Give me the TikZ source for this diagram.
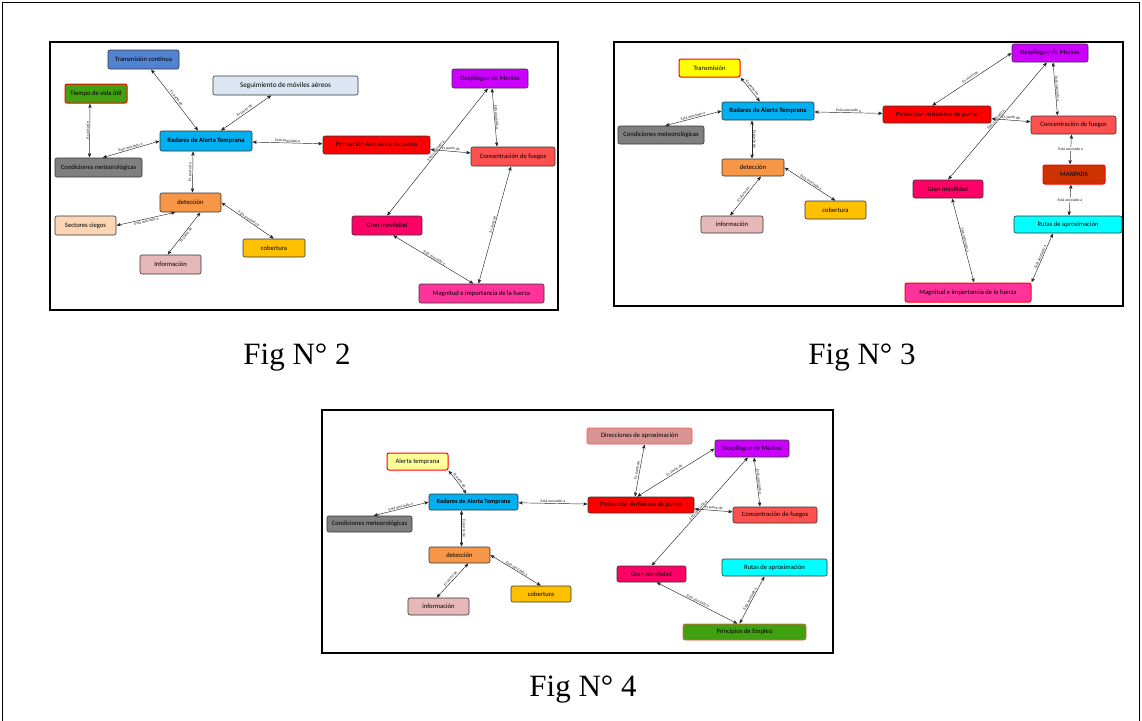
\documentclass[tikz,border=0pt]{standalone}
\usepackage{fontspec}
\setmainfont{Liberation Serif}
\newfontfamily\cmapfont{Carlito}
\usetikzlibrary{arrows}

\definecolor{cmblue}{RGB}{82,130,210}
\definecolor{cmgreen}{RGB}{64,160,16}
\definecolor{cmsilver}{RGB}{220,230,242}
\definecolor{cmsky}{RGB}{0,176,240}
\definecolor{cmgray}{RGB}{127,127,127}
\definecolor{cmviolet}{RGB}{204,0,255}
\definecolor{cmsalmon}{RGB}{255,80,80}
\definecolor{cmorange}{RGB}{247,150,70}
\definecolor{cmpeach}{RGB}{252,213,180}
\definecolor{cmrose}{RGB}{230,184,183}
\definecolor{cmgold}{RGB}{255,192,0}
\definecolor{cmcrimson}{RGB}{255,0,102}
\definecolor{cmpink}{RGB}{255,51,153}
\definecolor{cmlemon}{RGB}{255,255,153}
\definecolor{cmbrick}{RGB}{204,51,0}
\definecolor{cmdusty}{RGB}{217,149,148}
\definecolor{cmaqua}{RGB}{0,255,255}
\definecolor{cmyellow}{RGB}{255,255,0}

\begin{document}
\begin{tikzpicture}[x=1pt,y=-1pt,<->,>=stealth',shorten >=0.5pt,shorten <=0.5pt,
  concept/.style={rectangle,rounded corners=2pt,draw=black!80,line width=0.6pt,inner sep=0pt,
    minimum height=18,font=\cmapfont\fontsize{6.6}{7}\selectfont},
  redline/.style={draw=red,line width=1pt},
  lab/.style={sloped,above,inner sep=0.6pt,text=black!85,font=\cmapfont\fontsize{4}{4.5}\selectfont},
  flatlab/.style={fill=white,inner sep=0.6pt,text=black!85,font=\cmapfont\fontsize{4}{4.5}\selectfont},
  panel/.style={-,draw,line width=1.8pt},
  every edge/.style={draw,line width=0.45pt,black!85}]

  \useasboundingbox (0,0) rectangle (1142,720);
  \draw[-,line width=0.8pt] (2.5,730) -- (2.5,2.5) -- (1139.5,2.5) -- (1139.5,730);

  % Fig N 2
  \draw[panel] (50,42) rectangle (558,310);
  \node[concept,fill=cmblue,minimum width=71,minimum height=19] (f2trans) at (143.5,59.5) {Transmisión continua};
  \node[concept,redline,fill=cmgreen,minimum width=62,minimum height=19] (f2tiempo) at (96,93.5) {Tiempo de vida útil};
  \node[concept,fill=cmsilver,minimum width=145,minimum height=19,font=\cmapfont\fontsize{7.2}{8}\selectfont] (f2segui) at (285.5,85.5) {Seguimiento de móviles aéreos};
  \node[concept,fill=cmsky,minimum width=92,minimum height=20,font=\cmapfont\bfseries\fontsize{6.6}{7}\selectfont] (f2rad) at (206,141) {Radares de Alerta Temprana};
  \node[concept,fill=cmgray,minimum width=87,minimum height=19] (f2cond) at (98.5,167.5) {Condiciones meteorológicas};
  \node[concept,fill=red,minimum width=107] (f2prot) at (376.5,145) {Protección Antiaérea de punto};
  \node[concept,fill=cmviolet,minimum width=76,minimum height=19] (f2desp) at (490,78.5) {Despliegue de Medios};
  \node[concept,fill=cmsalmon,minimum width=84,minimum height=19] (f2conc) at (513,156.5) {Concentración de fuegos};
  \node[concept,fill=cmorange,minimum width=61,minimum height=19] (f2det) at (190.5,202.5) {detección};
  \node[concept,fill=cmpeach,minimum width=61,minimum height=19] (f2sect) at (85.5,225.5) {Sectores ciegos};
  \node[concept,fill=cmrose,minimum width=61,minimum height=19] (f2info) at (170.5,264.5) {Información};
  \node[concept,fill=cmgold,minimum width=62] (f2cob) at (274,248) {cobertura};
  \node[concept,fill=cmcrimson,minimum width=70,minimum height=19] (f2gran) at (387,225.5) {Gran movilidad};
  \node[concept,fill=cmpink,minimum width=125,minimum height=19] (f2mag) at (481.5,293.5) {Magnitud e importancia de la fuerza};

  \path
    (f2rad) edge node[lab] {Es parte de} (f2trans)
    (f2rad) edge node[lab] {Es parte de} (f2segui)
    ([xshift=4]f2cond.north) edge node[lab] {Está asociado a} (f2rad.west)
    ([xshift=-9]f2cond.north) edge node[lab] {A causa de} ([xshift=-6]f2tiempo.south)
    (f2rad) edge node[lab] {Está asociado a} (f2prot)
    ([xshift=-13]f2rad.south) edge node[lab] {Es parte de} ([xshift=2]f2det.north)
    (f2sect.east) edge node[lab,below] {Está asociado a} ([xshift=-15]f2det.south)
    ([xshift=-3]f2info.north) edge node[lab,below] {Es parte de} ([xshift=10]f2det.south)
    (f2det.east) edge node[lab] {Está asociado a} (f2cob.north)
    (f2prot) edge node[lab] {Es parte de} (f2conc)
    ([xshift=2]f2desp.south) edge node[lab] {Está asociado a} ([xshift=-16]f2conc.north)
    ([xshift=-2]f2desp.south) edge node[lab] {Está asociado a} (f2gran.north)
    ([xshift=6]f2gran.south) edge node[lab] {Está asociado a} ([xshift=-8]f2mag.north)
    ([xshift=-2]f2conc.south) edge node[lab] {A causa de} ([xshift=-3]f2mag.north)
    ;

  % Fig N 3
  \draw[panel] (614,42) rectangle (1123,306);
  \node[concept,redline,fill=cmyellow,minimum width=61] (f3trans) at (709.5,68) {Transmisión};
  \node[concept,fill=cmsky,minimum width=92,font=\cmapfont\bfseries\fontsize{6.6}{7}\selectfont] (f3rad) at (768,111) {Radares de Alerta Temprana};
  \node[concept,fill=cmgray,minimum width=86] (f3cond) at (661,135) {Condiciones meteorológicas};
  \node[concept,fill=cmorange,minimum width=62,minimum height=17] (f3det) at (753,167.5) {detección};
  \node[concept,fill=red,minimum width=108,minimum height=17] (f3prot) at (937,114.5) {Protección Antiaérea de punto};
  \node[concept,fill=cmviolet,minimum width=76] (f3desp) at (1050,53) {Despliegue de Medios};
  \node[concept,fill=cmsalmon,minimum width=85] (f3conc) at (1073.5,125) {Concentración de fuegos};
  \node[concept,redline,fill=cmbrick,minimum width=62,minimum height=19] (f3man) at (1074,174.5) {MANPADS};
  \node[concept,fill=cmcrimson,minimum width=70] (f3gran) at (948,189) {Gran movilidad};
  \node[concept,fill=cmaqua,minimum width=108,minimum height=17] (f3rut) at (1068,224.5) {Rutas de aproximación};
  \node[concept,redline,fill=cmpink,minimum width=126,minimum height=19] (f3mag) at (968,292.5) {Magnitud e importancia de la fuerza};
  \node[concept,fill=cmrose,minimum width=62,minimum height=17] (f3info) at (732,224.5) {información};
  \node[concept,fill=cmgold,minimum width=61] (f3cob) at (835.5,210) {cobertura};

  \path
    (f3trans.south east) edge node[lab] {Es parte de} ([xshift=-8]f3rad.north)
    ([xshift=4]f3cond.north) edge node[lab] {Está asociado a} (f3rad.west)
    ([xshift=-16]f3rad.south) edge node[lab] {Es parte de} ([xshift=-1]f3det.north)
    (f3rad) edge node[lab] {Está asociado a} (f3prot)
    ([xshift=8]f3det.south) edge node[lab] {Es parte de} ([xshift=-2]f3info.north)
    (f3det.east) edge node[lab] {Está asociado a} (f3cob.north)
    ([xshift=-5]f3prot.north) edge node[lab] {Es parte de} (f3desp.west)
    (f3prot) edge node[lab] {Es parte de} (f3conc)
    ([xshift=3]f3desp.south) edge node[lab] {Está asociado a} ([xshift=-16]f3conc.north)
    ([xshift=-3]f3desp.south) edge node[lab] {Está asociado a} (f3gran.north)
    ([xshift=-2]f3conc.south) edge node[flatlab] {Está asociado a} ([xshift=-4]f3man.north)
    ([xshift=-3]f3man.south) edge node[flatlab] {Está asociado a} ([xshift=1]f3rut.north)
    ([xshift=4]f3gran.south) edge node[lab] {Está asociado a} ([xshift=6]f3mag.north)
    ([xshift=-15]f3rut.south) edge node[lab] {Está asociado a} (f3mag.north east)
    ;

  % Fig N 4
  \draw[panel] (322,410) rectangle (833,653);
  \node[concept,redline,fill=cmlemon,minimum width=61,minimum height=17] (f4alert) at (417.5,461.5) {Alerta temprana};
  \node[concept,fill=cmsky,minimum width=89,minimum height=16,font=\cmapfont\bfseries\fontsize{6.3}{7}\selectfont] (f4rad) at (473.5,502) {Radares de Alerta Temprana};
  \node[concept,fill=cmgray,minimum width=85,minimum height=16] (f4cond) at (369.5,524) {Condiciones meteorológicas};
  \node[concept,fill=red,minimum width=106,minimum height=16] (f4prot) at (641,505) {Protección Antiaérea de punto};
  \node[concept,draw=cmsalmon,fill=cmdusty,minimum width=105,minimum height=16] (f4dir) at (639.5,436) {Direcciones de aproximación};
  \node[concept,fill=cmviolet,minimum width=74,minimum height=17] (f4desp) at (752,448.5) {Despliegue de Medios};
  \node[concept,fill=cmsalmon,minimum width=84,minimum height=16] (f4conc) at (775,515) {Concentración de fuegos};
  \node[concept,fill=cmorange,minimum width=61,minimum height=16] (f4det) at (459.5,555) {detección};
  \node[concept,fill=cmrose,minimum width=61,minimum height=17] (f4info) at (438.5,606.5) {información};
  \node[concept,fill=cmgold,minimum width=60,minimum height=16] (f4cob) at (541,594) {cobertura};
  \node[concept,fill=cmcrimson,minimum width=69,minimum height=16] (f4gran) at (651.5,574) {Gran movilidad};
  \node[concept,fill=cmaqua,minimum width=105,minimum height=17] (f4rut) at (774.5,567.5) {Rutas de aproximación};
  \node[concept,draw=cmsalmon,fill=cmgreen,minimum width=123,minimum height=16] (f4princ) at (744.5,632) {Principios de Empleo};

  \path
    (f4alert.south east) edge node[lab] {Es parte de} ([xshift=-7]f4rad.north)
    ([xshift=4]f4cond.north) edge node[lab] {Está asociado a} (f4rad.west)
    ([xshift=-12]f4rad.south) edge node[lab] {Es parte de} ([xshift=2]f4det.north)
    (f4rad) edge node[lab] {Está asociado a} (f4prot)
    ([xshift=9]f4det.south) edge node[lab] {Es parte de} ([xshift=-2]f4info.north)
    (f4det.east) edge node[lab] {Está asociado a} (f4cob.north)
    ([xshift=-6]f4prot.north) edge node[lab] {Es parte de} ([xshift=5]f4dir.south)
    ([xshift=-4]f4prot.north) edge node[lab] {Es parte de} (f4desp.west)
    (f4prot) edge node[lab] {Es parte de} (f4conc)
    ([xshift=2]f4desp.south) edge node[lab] {Está asociado a} ([xshift=-15]f4conc.north)
    ([xshift=-4]f4desp.south) edge node[lab] {Está asociado a} (f4gran.north)
    ([xshift=5]f4gran.south) edge node[lab] {Está asociado a} ([xshift=-7]f4princ.north)
    ([xshift=-10]f4rut.south) edge node[lab] {Está asociado a} ([xshift=-5]f4princ.north)
    ;

  % captions
  \node[font=\fontsize{31}{35}\selectfont] (cap2) at (297,358) {Fig N° 2};
  \node[font=\fontsize{31}{35}\selectfont] (cap3) at (862,358) {Fig N° 3};
  \node[font=\fontsize{31}{35}\selectfont] (cap4) at (583,690) {Fig N° 4};
\end{tikzpicture}
\end{document}
